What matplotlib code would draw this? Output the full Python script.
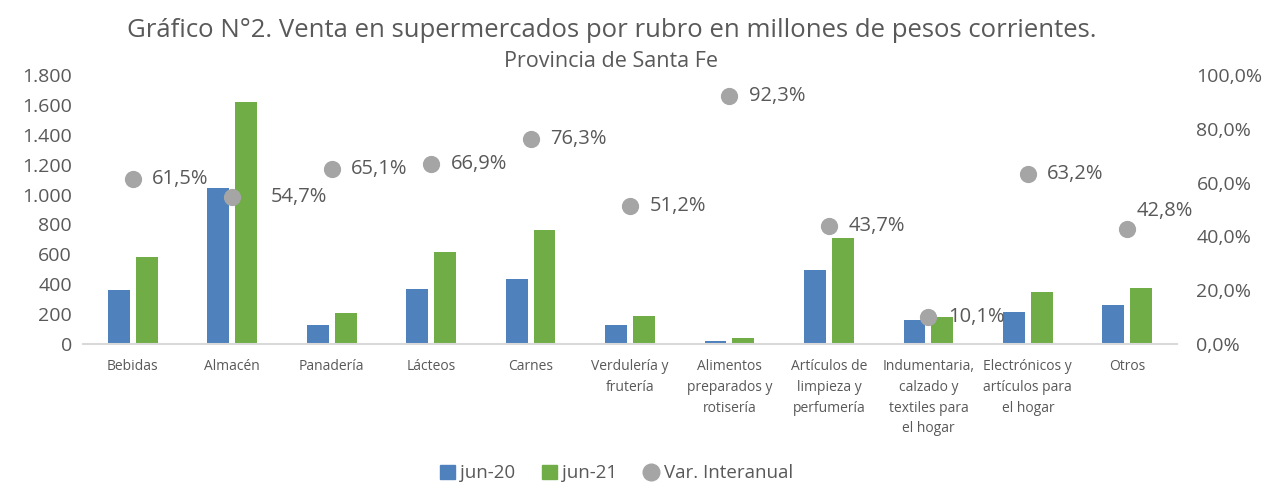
"""Venta en supermercados por rubro, Santa Fe: jun-20 vs jun-21 + variación interanual."""

import matplotlib
matplotlib.use("Agg")
import matplotlib.pyplot as plt
from matplotlib.lines import Line2D
from matplotlib.patches import Patch
import numpy as np

rubros = ["Bebidas", "Almacén", "Panadería", "Lácteos", "Carnes",
          "Verdulería y\nfrutería", "Alimentos\npreparados y\nrotisería",
          "Artículos de\nlimpieza y\nperfumería",
          "Indumentaria,\ncalzado y\ntextiles para\nel hogar",
          "Electrónicos y\nartículos para\nel hogar", "Otros"]
jun20 = [361, 1044, 127, 368, 435, 124, 21, 494, 163, 213, 261]
jun21 = [582, 1620, 207, 616, 763, 187, 40, 710, 180, 348, 375]
var_ia = [61.5, 54.7, 65.1, 66.9, 76.3, 51.2, 92.3, 43.7, 10.1, 63.2, 42.8]

BLUE = "#4F81BD"
GREEN = "#70AD47"
GREY = "#A5A5A5"
TXT = "#595959"

plt.rcParams["font.family"] = ["Open Sans", "DejaVu Sans"]

fig = plt.figure(figsize=(12.66, 4.84), dpi=100)
ax = fig.add_axes([0.0656, 0.2893, 0.8641, 0.5557])
x = np.arange(len(rubros))
w = 0.22
ax.bar(x - 0.14, jun20, w, color=BLUE, zorder=2)
ax.bar(x + 0.14, jun21, w, color=GREEN, zorder=2)
ax.set_xlim(-0.5, len(rubros) - 0.5)
ax.set_ylim(0, 1800)
ax.set_yticks(range(0, 1801, 200))
ax.set_yticklabels([f"{v:,}".replace(",", ".") for v in range(0, 1801, 200)],
                   fontsize=14, color=TXT)
ax.set_xticks(x)
ax.set_xticklabels(rubros, fontsize=10, color=TXT, linespacing=1.52, va="top")
ax.tick_params(length=0, pad=8)
ax.tick_params(axis="x", pad=11)
for s in ["top", "right", "left"]:
    ax.spines[s].set_visible(False)
ax.spines["bottom"].set_color("#D9D9D9")
ax.spines["bottom"].set_linewidth(1.5)

ax2 = ax.twinx()
ax2.set_ylim(0, 100)
ax2.set_yticks(range(0, 101, 20))
ax2.set_yticklabels([f"{v},0%" for v in range(0, 101, 20)], fontsize=14, color=TXT)
ax2.tick_params(length=0, pad=14)
for s in ax2.spines.values():
    s.set_visible(False)
ax2.scatter(x, var_ia, s=130, color=GREY, zorder=3)
for xi, v in zip(x, var_ia):
    lbl = f"{v:.1f}%".replace(".", ",")
    off = (14, 0)
    if v == 42.8:
        off = (7, 13)
    elif v == 54.7:
        off = (28, 0)
    ax2.annotate(lbl, (xi, v), xytext=off, textcoords="offset points",
                 fontsize=14.5, color=TXT, va="center", ha="left")

fig.text(0.483, 0.937, "Gráfico N°2. Venta en supermercados por rubro en millones de pesos corrientes.",
         ha="center", va="center", fontsize=18.5, color=TXT)
fig.text(0.483, 0.873, "Provincia de Santa Fe", ha="center", va="center", fontsize=15.5, color=TXT)

handles = [Patch(color=BLUE, label="jun-20"), Patch(color=GREEN, label="jun-21"),
           Line2D([], [], marker="o", linestyle="", markersize=12, color=GREY,
                  label="Var. Interanual")]
leg = fig.legend(handles=handles, loc="center", bbox_to_anchor=(0.487, 0.022), ncol=3,
                 frameon=False, fontsize=13.5, handlelength=0.8, handleheight=0.8,
                 handletextpad=0.3, columnspacing=1.4)
for t in leg.get_texts():
    t.set_color(TXT)

fig.savefig("out.png", dpi=100)
